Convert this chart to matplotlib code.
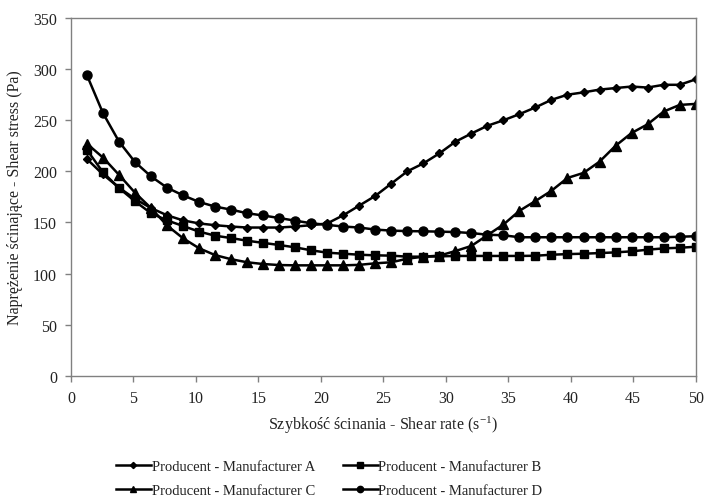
import matplotlib.pyplot as plt
from matplotlib.lines import Line2D

plt.rcParams["font.family"] = ["Liberation Serif", "DejaVu Serif"]
plt.rcParams["mathtext.fontset"] = "custom"
plt.rcParams["mathtext.rm"] = "Liberation Serif"
plt.rcParams["mathtext.default"] = "regular"

# === dane ===
shear_rate = [1.28, 2.56, 3.85, 5.13, 6.41, 7.69, 8.97, 10.26, 11.54, 12.82,
              14.10, 15.38, 16.67, 17.95, 19.23, 20.51, 21.79, 23.08, 24.36, 25.64,
              26.92, 28.21, 29.49, 30.77, 32.05, 33.33, 34.62, 35.90, 37.18, 38.46,
              39.74, 41.03, 42.31, 43.59, 44.87, 46.15, 47.44, 48.72, 50.00]

stress_a = [212, 197, 184, 173, 164, 157, 152, 149, 147.3, 146,
            145, 145, 145, 146, 147.3, 149, 157, 166.5, 176, 188,
            200, 207.8, 217.6, 229, 237, 244.6, 250, 256, 262.6, 270,
            275, 277.3, 280, 281.5, 283, 282, 284.7, 284.7, 290]

stress_b = [221, 199, 183.6, 170.6, 159, 152, 146.5, 141, 137, 134.7,
            132.1, 130, 127.9, 125.6, 122.7, 120.4, 119.4, 118.4, 117.8, 117.5,
            116.5, 116.5, 116.8, 117.2, 117.2, 117.2, 117.2, 117.2, 117.4, 118.4,
            119, 119.4, 120, 120.7, 121.7, 123.3, 124.6, 125.2, 126.2]

stress_c = [227, 213.5, 196.5, 179, 164, 147, 134.5, 124.7, 118, 114,
            111, 109.3, 108.3, 108, 108, 108, 108, 108.5, 110, 111,
            114.5, 116.5, 117.5, 122, 127, 137.5, 148, 161.4, 171, 181,
            193.5, 198.5, 209.5, 225, 237.5, 246, 258.5, 265, 266]

stress_d = [294, 257, 229, 209, 195, 184, 176.5, 170, 165.5, 162.5,
            159, 156.8, 154.3, 151.7, 149.2, 147.6, 146, 145, 143, 142,
            141.5, 141.3, 141, 140.6, 139.6, 138, 137.4, 135.5, 135.5, 135.5,
            135.5, 135.5, 135.5, 135.5, 135.5, 135.5, 135.5, 136, 136.5]

labels = ["Producent - Manufacturer A", "Producent - Manufacturer B",
          "Producent - Manufacturer C", "Producent - Manufacturer D"]

series = [
    (stress_a, "D", 4.5),
    (stress_b, "s", 6),
    (stress_c, "^", 6.5),
    (stress_d, "o", 6.5),
]

text_color = "#222222"

# === wykres ===
fig = plt.figure(figsize=(7.05, 5.02), dpi=100)
ax = fig.add_axes([0.1007, 0.2496, 0.886, 0.7124])

handles = []
for (vals, marker, ms), label in zip(series, labels):
    ax.plot(shear_rate, vals, color="black", linewidth=1.8,
            marker=marker, markersize=ms, label=label)
    handles.append(Line2D([], [], color="black", linewidth=1.8, marker=marker,
                          markersize=ms * 0.7, label=label))

ax.set_xlim(0, 50)
ax.set_ylim(0, 350)
ax.set_xticks(range(0, 51, 5))
ax.set_yticks(range(0, 351, 50))

for s in ax.spines.values():
    s.set_color("#808080")
    s.set_linewidth(1.0)
ax.tick_params(direction="out", length=4, width=1, color="#808080",
               labelsize=11.5, labelcolor=text_color, pad=6)

ax.set_xlabel("Szybkość ścinania - Shear rate (s$^{-1}$)", fontsize=11.5,
              color=text_color, labelpad=6)
ax.set_ylabel("Naprężenie ścinające - Shear stress (Pa)", fontsize=11.5,
              color=text_color, labelpad=7)

# kolejność tak, żeby w wierszach było A B / C D
order = [0, 2, 1, 3]
fig.legend([handles[i] for i in order], [labels[i] for i in order],
           ncol=2, loc="center", bbox_to_anchor=(0.467, 0.045),
           frameon=False, fontsize=10.5, handlelength=2.4, handletextpad=0.05,
           columnspacing=1.9, labelspacing=0.75, labelcolor=text_color)

fig.savefig("out.png", dpi=100)
